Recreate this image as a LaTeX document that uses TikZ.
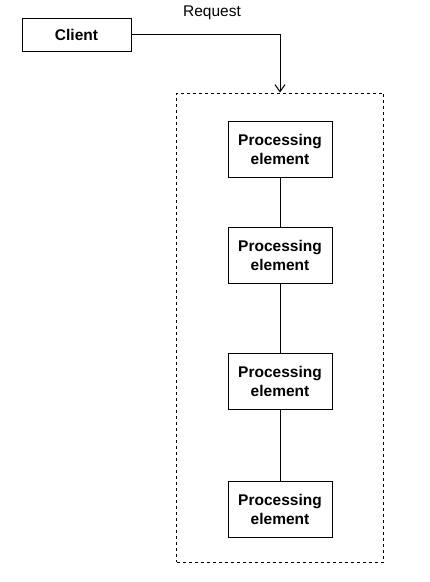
\documentclass[tikz,border=0pt]{standalone}
\usepackage{fontspec}
\setmainfont{Liberation Sans}
\usepackage{tikz}
\usetikzlibrary{arrows.meta,positioning}

\begin{document}
\begin{tikzpicture}[x=1pt,y=1pt,
  box/.style={draw,line width=1pt,align=center,font=\fontsize{15.5}{19}\selectfont\bfseries,minimum width=#1,minimum height=56pt,inner sep=0pt},
  box/.default=104pt,
  link/.style={line width=1pt},
  req/.style={line width=1pt,-{Straight Barb[length=7pt,width=10pt,line width=1pt]}},
  grp/.style={draw,line width=1pt,dash pattern=on 3pt off 3pt,minimum width=207pt,minimum height=469pt,inner sep=0pt},
  lab/.style={font=\fontsize{15.5}{19}\selectfont,inner sep=1pt}]
\useasboundingbox (0,0) rectangle (430,-582);
\node[grp] (group) at (280,-327.5) {};
\node[box=109pt,minimum height=33pt] (client) at (76.5,-34.5) {Client};
\node[box] (pe1) at (280,-149.5) {Processing\\element};
\node[box] (pe2) at (280,-255.5) {Processing\\element};
\node[box] (pe3) at (280,-381.5) {Processing\\element};
\node[box] (pe4) at (280,-509) {Processing\\element};
\node[lab] (reqlab) at (212,-13) {Request};
\draw[req] (client.east) -| (group.north);
\draw[link] (pe1) -- (pe2);
\draw[link] (pe2) -- (pe3);
\draw[link] (pe3) -- (pe4);
\end{tikzpicture}
\end{document}
